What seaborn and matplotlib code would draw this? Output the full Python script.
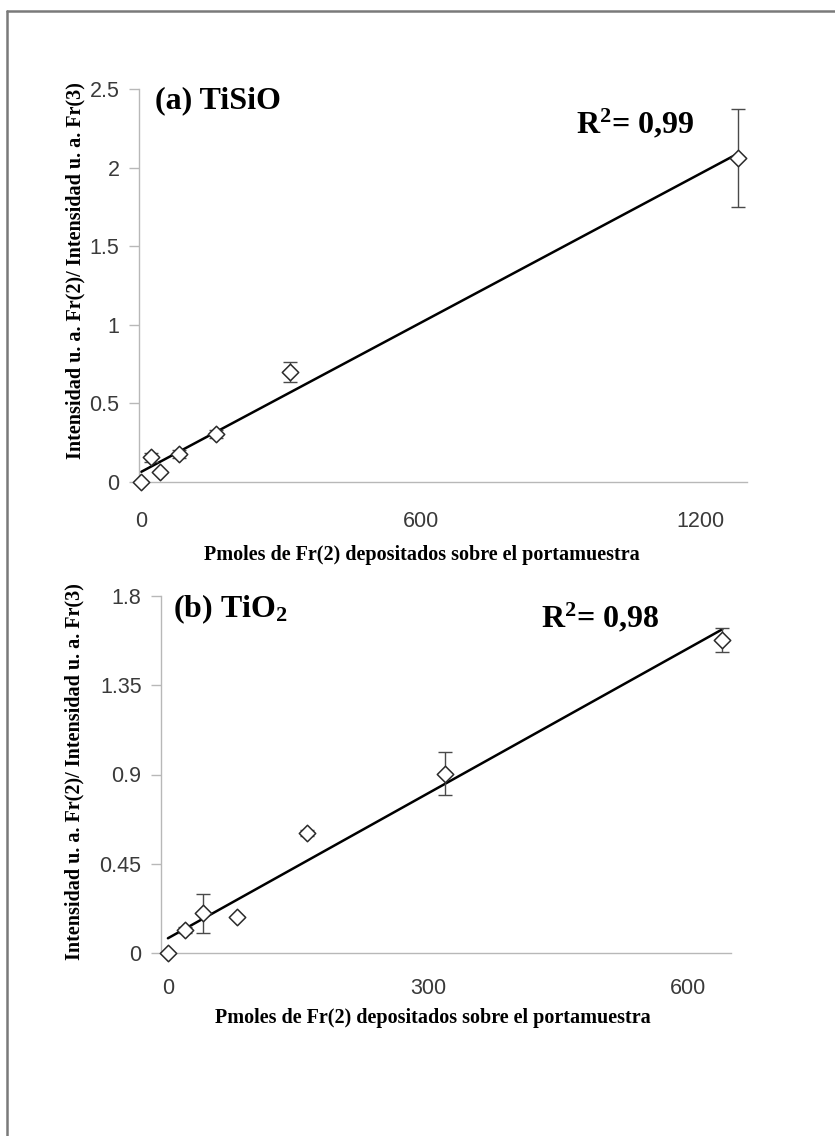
import numpy as np
import pandas as pd
import matplotlib
matplotlib.use("Agg")
import matplotlib.pyplot as plt
from matplotlib.lines import Line2D
import seaborn as sns

# (a) TiSiO
x_a = [0, 20, 40, 80, 160, 320, 1280]
y_a = [0.0, 0.157, 0.062, 0.176, 0.304, 0.70, 2.06]
err_a = [0.0, 0.03, 0.0, 0.025, 0.025, 0.065, 0.31]
yticks_a = [0, 0.5, 1, 1.5, 2, 2.5]
ytick_labels_a = ["0", "0.5", "1", "1.5", "2", "2.5"]
xticks_a = [0, 600, 1200]

# (b) TiO2
x_b = [0, 20, 40, 80, 160, 320, 640]
y_b = [0.0, 0.115, 0.20, 0.18, 0.607, 0.905, 1.58]
err_b = [0.0, 0.015, 0.10, 0.0, 0.015, 0.11, 0.06]
yticks_b = [0, 0.45, 0.9, 1.35, 1.8]
ytick_labels_b = ["0", "0.45", "0.9", "1.35", "1.8"]
xticks_b = [0, 300, 600]

title_a = "(a) TiSiO"
title_b = "(b) TiO$_\\mathbf{2}$"
r2_a = "R$^\\mathbf{2}$= 0,99"
r2_b = "R$^\\mathbf{2}$= 0,98"
xlabel = "Pmoles de Fr(2) depositados sobre el portamuestra"
ylabel = "Intensidad u. a. Fr(2)/ Intensidad u. a. Fr(3)"

sns.set_style("white")
plt.rcParams["font.family"] = ["Liberation Sans", "DejaVu Sans"]
plt.rcParams["mathtext.fontset"] = "custom"
plt.rcParams["mathtext.rm"] = "Liberation Serif:bold"
plt.rcParams["mathtext.bf"] = "Liberation Serif:bold"
plt.rcParams["mathtext.it"] = "Liberation Serif:bold"

fig = plt.figure(figsize=(8.35, 11.36), dpi=100)
fig.patch.set_facecolor("white")

ax_a = fig.add_axes([139 / 835, 1 - 482 / 1136, 608 / 835, 393 / 1136])
ax_b = fig.add_axes([161 / 835, 1 - 953 / 1136, 570 / 835, 357 / 1136])

serif = "Liberation Serif"
spine_col = "#b8b8b8"
tick_col = "#3a3a3a"


def draw_panel(ax, x, y, err, xlim, ylim, xticks, yticks, ylabels, xpad):
    df = pd.DataFrame({"x": x, "y": y})
    sns.regplot(data=df, x="x", y="y", ax=ax, ci=None, scatter=False,
                truncate=True, line_kws={"color": "black", "lw": 1.8})
    ax.errorbar(x, y, yerr=err, fmt="none", ecolor="#4a4a4a",
                elinewidth=1.0, capsize=5, capthick=1.0, zorder=3)
    sns.scatterplot(data=df, x="x", y="y", ax=ax, marker="D", s=70,
                    facecolor="white", edgecolor="#2a2a2a", linewidth=1.1,
                    zorder=4, clip_on=False)
    ax.set_xlim(*xlim)
    ax.set_ylim(*ylim)
    ax.set_xticks(xticks)
    ax.set_xticklabels([str(t) for t in xticks])
    ax.set_yticks(yticks)
    ax.set_yticklabels(ylabels)
    for side in ("top", "right"):
        ax.spines[side].set_visible(False)
    for side in ("left", "bottom"):
        ax.spines[side].set_color(spine_col)
        ax.spines[side].set_linewidth(1.0)
    ax.tick_params(axis="y", direction="out", length=7, width=1,
                   color=spine_col, labelsize=15.5, labelcolor=tick_col,
                   pad=7, left=True)
    ax.tick_params(axis="x", length=0, labelsize=15.5, labelcolor=tick_col,
                   pad=xpad)
    ax.set_xlabel("")
    ax.set_ylabel("")


draw_panel(ax_a, x_a, y_a, err_a, (-5, 1300), (0, 2.5), xticks_a,
           yticks_a, ytick_labels_a, 21)
draw_panel(ax_b, x_b, y_b, err_b, (-8, 650), (0, 1.8), xticks_b,
           yticks_b, ytick_labels_b, 18)

# axis labels
for ax, xl_pos, yl_pos in ((ax_a, (0.465, -0.186), (-0.105, 0.537)),
                           (ax_b, (0.477, -0.182), (-0.151, 0.507))):
    ax.set_xlabel(xlabel, fontfamily=serif, fontweight="bold", fontsize=14.5,
                  color="black")
    ax.xaxis.set_label_coords(*xl_pos)
    ax.xaxis.label.set_va("center")
    ax.set_ylabel(ylabel, fontfamily=serif, fontweight="bold", fontsize=14.5,
                  color="black")
    ax.yaxis.set_label_coords(*yl_pos)
    ax.yaxis.label.set_va("center")

# panel titles and R² annotations
txt = dict(fontfamily=serif, fontweight="bold", fontsize=23, color="black",
           va="baseline")
ax_a.text(0.026, 0.952, title_a, transform=ax_a.transAxes, ha="left", **txt)
ax_a.text(0.816, 0.888, r2_a, transform=ax_a.transAxes, ha="center", **txt)
ax_b.text(0.021, 0.941, title_b, transform=ax_b.transAxes, ha="left", **txt)
ax_b.text(0.770, 0.913, r2_b, transform=ax_b.transAxes, ha="center", **txt)

# page frame (top and left edges)
W, H = 835, 1136
frame_col = "#7a7a7a"
fig.add_artist(Line2D([7 / W, 1.0], [1 - 11 / H, 1 - 11 / H],
                      transform=fig.transFigure, color=frame_col, lw=1.8))
fig.add_artist(Line2D([7 / W, 7 / W], [0.0, 1 - 11 / H],
                      transform=fig.transFigure, color=frame_col, lw=1.8))

fig.savefig("out.png", dpi=100, facecolor="white")
